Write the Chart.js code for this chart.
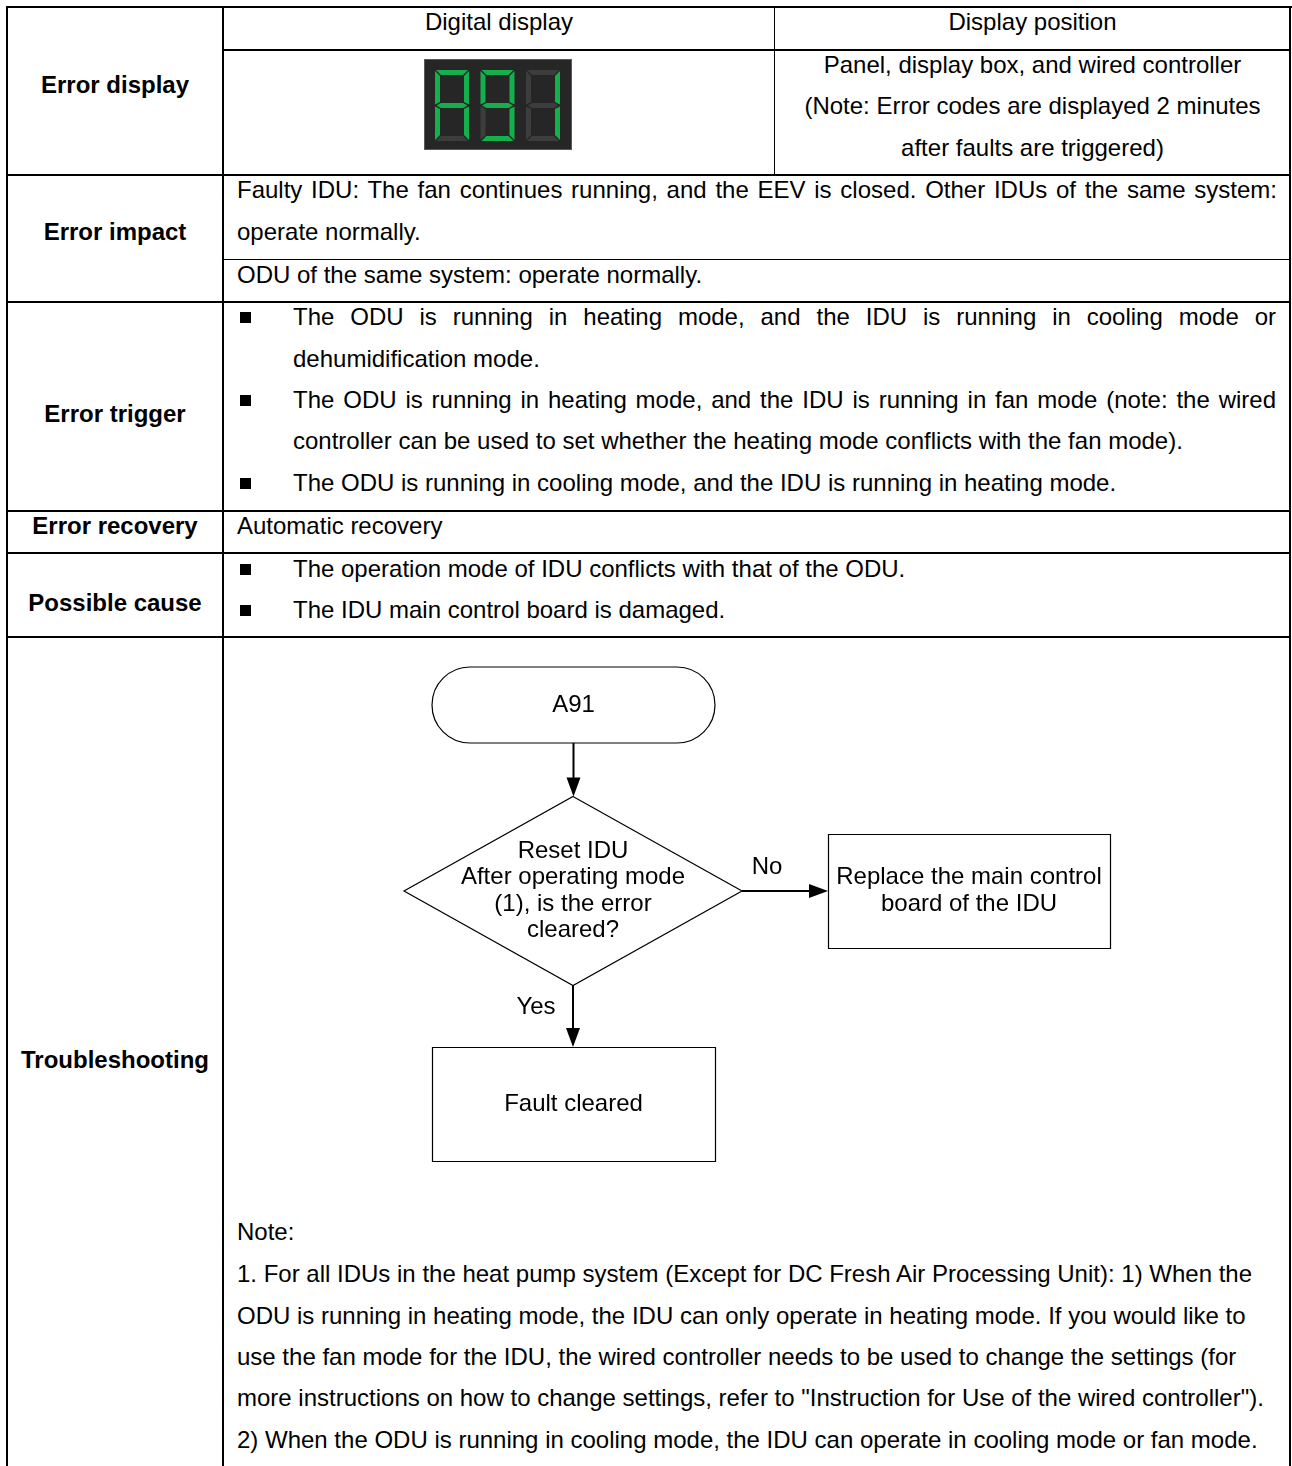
<!DOCTYPE html>
<html>
<head>
<meta charset="utf-8">
<script src="https://cdn.jsdelivr.net/npm/chart.js@4.4.1/dist/chart.umd.min.js"></script>
<style>
html, body { margin: 0; padding: 0; background: #fff; }
body { width: 1292px; height: 1466px; position: relative; overflow: hidden;
       font-family: "Liberation Sans", Arial, sans-serif; font-size: 24px; color: #000; }
.hl { position: absolute; height: 2px; background: #000; }
.vl { position: absolute; width: 2px; background: #000; }
.t { position: absolute; line-height: 30px; height: 30px; white-space: nowrap; }
.c { text-align: center; }
.b { font-weight: bold; }
.sq { position: absolute; width: 11px; height: 11px; background: #000; }
#display { position: absolute; left: 424px; top: 59px; width: 148px; height: 91px; }
#flow { position: absolute; left: 224px; top: 639px; }
</style>
</head>
<body>

<!-- table rules -->
<div class="hl" style="left:6px;top:6px;width:1286px"></div>
<div class="vl" style="left:6px;top:6px;height:1460px"></div>
<div class="vl" style="left:1289px;top:6px;height:1460px"></div>
<div class="vl" style="left:222px;top:6px;height:1460px"></div>
<div class="hl" style="left:222px;top:49px;width:1069px"></div>
<div class="vl" style="left:774px;top:6px;height:169px;width:1px"></div>
<div class="hl" style="left:6px;top:174px;width:1285px"></div>
<div class="hl" style="left:222px;top:259px;width:1069px;height:1px"></div>
<div class="hl" style="left:6px;top:301px;width:1285px"></div>
<div class="hl" style="left:6px;top:510px;width:1285px"></div>
<div class="hl" style="left:6px;top:552px;width:1285px"></div>
<div class="hl" style="left:6px;top:636px;width:1285px"></div>

<!-- first column -->
<div class="t c b" style="left:8px;width:214px;top:70px">Error display</div>
<div class="t c b" style="left:8px;width:214px;top:217px">Error impact</div>
<div class="t c b" style="left:8px;width:214px;top:399px">Error trigger</div>
<div class="t c b" style="left:8px;width:214px;top:511px">Error recovery</div>
<div class="t c b" style="left:8px;width:214px;top:588px">Possible cause</div>
<div class="t c b" style="left:8px;width:214px;top:1045px">Troubleshooting</div>

<!-- error display -->
<div class="t c" style="left:224px;width:550px;top:7px">Digital display</div>
<div class="t c" style="left:776px;width:513px;top:7px">Display position</div>
<div id="display"></div>
<div class="t c" style="left:776px;width:513px;top:50px">Panel, display box, and wired controller</div>
<div class="t c" style="left:776px;width:513px;top:91px">(Note: Error codes are displayed 2 minutes</div>
<div class="t c" style="left:776px;width:513px;top:133px">after faults are triggered)</div>

<!-- error impact -->
<div class="t j" data-width="1040" style="left:237px;top:175px">Faulty IDU: The fan continues running, and the EEV is closed. Other IDUs of the same system:</div>
<div class="t" style="left:237px;top:217px">operate normally.</div>
<div class="t" style="left:237px;top:260px">ODU of the same system: operate normally.</div>

<!-- error trigger -->
<div class="sq" style="left:240px;top:312px"></div>
<div class="t j" data-width="983" style="left:293px;top:302px">The ODU is running in heating mode, and the IDU is running in cooling mode or</div>
<div class="t" style="left:293px;top:344px">dehumidification mode.</div>
<div class="sq" style="left:240px;top:395px"></div>
<div class="t j" data-width="983" style="left:293px;top:385px">The ODU is running in heating mode, and the IDU is running in fan mode (note: the wired</div>
<div class="t" style="left:293px;top:426px">controller can be used to set whether the heating mode conflicts with the fan mode).</div>
<div class="sq" style="left:240px;top:478px"></div>
<div class="t" style="left:293px;top:468px">The ODU is running in cooling mode, and the IDU is running in heating mode.</div>

<!-- error recovery -->
<div class="t" style="left:237px;top:511px">Automatic recovery</div>

<!-- possible cause -->
<div class="sq" style="left:240px;top:564px"></div>
<div class="t" style="left:293px;top:554px">The operation mode of IDU conflicts with that of the ODU.</div>
<div class="sq" style="left:240px;top:605px"></div>
<div class="t" style="left:293px;top:595px">The IDU main control board is damaged.</div>

<!-- troubleshooting -->
<canvas id="flow" width="1066" height="570"></canvas>
<div class="t" style="left:237px;top:1217px">Note:</div>
<div class="t" style="left:237px;top:1259px">1. For all IDUs in the heat pump system (Except for DC Fresh Air Processing Unit): 1) When the</div>
<div class="t" style="left:237px;top:1301px">ODU is running in heating mode, the IDU can only operate in heating mode. If you would like to</div>
<div class="t" style="left:237px;top:1342px">use the fan mode for the IDU, the wired controller needs to be used to change the settings (for</div>
<div class="t" style="left:237px;top:1383px">more instructions on how to change settings, refer to "Instruction for Use of the wired controller").</div>
<div class="t" style="left:237px;top:1425px">2) When the ODU is running in cooling mode, the IDU can operate in cooling mode or fan mode.</div>

<script>
// Flowchart nodes (drawing units = page pixels)
const NODE_TEXT = [
    ['A91'],
    ['Reset IDU', 'After operating mode', '(1), is the error', 'cleared?'],
    ['Replace the main control', 'board of the IDU'],
    ['Fault cleared']
];
const NODE_SHAPE = ['terminal', 'decision', 'process', 'process'];
const NODE_X = [573.5, 573, 969, 573.5];
const NODE_Y = [705, 891, 891, 1104];
const NODE_W = [283, 338, 282, 283];
const NODE_H = [76, 189, 114, 114];

const EDGE_FROM = [0, 1, 1];
const EDGE_TO = [1, 2, 3];
const EDGE_LABEL = ['', 'No', 'Yes'];

// Seven segment display
const DISPLAY_CODE = ['A', '9', '1'];
const SEGMENTS = { 'A': 'abcefg', '9': 'abcdfg', '1': 'bc' };

const FONT = '24px "Liberation Sans", Arial, sans-serif';
const ARROW_LEN = 19;
const ARROW_HALF = 7;

justifyLines();
drawDisplay();
drawFlowchart();

function justifyLines() {
    for (let el of document.querySelectorAll('.j')) {
        let width = parseFloat(el.dataset.width);
        let natural = el.getBoundingClientRect().width;
        let spaces = (el.textContent.match(/ /g) || []).length;

        if (spaces)
            el.style.wordSpacing = ((width - natural) / spaces) + 'px';
    }
}

function drawDisplay() {
    let ns = 'http://www.w3.org/2000/svg';
    let svg = document.createElementNS(ns, 'svg');
    svg.setAttribute('width', 148);
    svg.setAttribute('height', 91);

    let bg = document.createElementNS(ns, 'rect');
    bg.setAttribute('x', 0.5); bg.setAttribute('y', 0.5);
    bg.setAttribute('width', 147); bg.setAttribute('height', 90);
    bg.setAttribute('fill', '#262626');
    bg.setAttribute('stroke', '#5a5a5a');
    svg.appendChild(bg);

    DISPLAY_CODE.forEach((ch, idx) => {
        let x0 = 11 + idx * 45.5;
        let w = 34, t = 5, top = 11, bot = 82, mid = 46.5;
        let shapes = {
            a: [[x0 + 1, top], [x0 + w - 1, top], [x0 + w - 1 - t, top + t], [x0 + 1 + t, top + t]],
            d: [[x0 + 1, bot], [x0 + w - 1, bot], [x0 + w - 1 - t, bot - t], [x0 + 1 + t, bot - t]],
            g: [[x0 + 1.5, mid], [x0 + 1 + t, mid - t / 2], [x0 + w - 1 - t, mid - t / 2], [x0 + w - 1.5, mid],
                [x0 + w - 1 - t, mid + t / 2], [x0 + 1 + t, mid + t / 2]],
            f: [[x0, top + 1], [x0 + t, top + 1 + t], [x0 + t, mid - t / 2 - 1], [x0, mid - 1]],
            b: [[x0 + w, top + 1], [x0 + w - t, top + 1 + t], [x0 + w - t, mid - t / 2 - 1], [x0 + w, mid - 1]],
            e: [[x0, mid + 1], [x0 + t, mid + t / 2 + 1], [x0 + t, bot - 1 - t], [x0, bot - 1]],
            c: [[x0 + w, mid + 1], [x0 + w - t, mid + t / 2 + 1], [x0 + w - t, bot - 1 - t], [x0 + w, bot - 1]]
        };
        let lit = SEGMENTS[ch];

        for (let seg of 'abcdefg') {
            let poly = document.createElementNS(ns, 'polygon');
            poly.setAttribute('points', shapes[seg].map(p => p.join(',')).join(' '));
            poly.setAttribute('fill', lit.includes(seg) ? '#14b04c' : '#3d3d3d');
            svg.appendChild(poly);
        }
    });

    document.getElementById('display').appendChild(svg);
}

function edgeEnds(idx) {
    let a = EDGE_FROM[idx];
    let b = EDGE_TO[idx];

    if (Math.abs(NODE_X[a] - NODE_X[b]) < 2) {
        return { x1: NODE_X[a], y1: NODE_Y[a] + NODE_H[a] / 2, x2: NODE_X[a], y2: NODE_Y[b] - NODE_H[b] / 2, dir: 'down' };
    } else {
        return { x1: NODE_X[a] + NODE_W[a] / 2, y1: NODE_Y[a], x2: NODE_X[b] - NODE_W[b] / 2, y2: NODE_Y[a], dir: 'right' };
    }
}

function drawFlowchart() {
    let datasets = EDGE_FROM.map((from, idx) => {
        let e = edgeEnds(idx);
        let end = e.dir == 'down' ? { x: e.x2, y: e.y2 - ARROW_LEN + 1 } : { x: e.x2 - ARROW_LEN + 1, y: e.y2 };

        return {
            type: 'line',
            data: [{ x: e.x1, y: e.y1 }, end],
            borderColor: '#000',
            borderWidth: 2,
            pointRadius: 0,
            fill: false
        };
    });

    let nodesPlugin = {
        id: 'flowNodes',
        afterDatasetsDraw: chart => {
            let ctx = chart.ctx;
            let sx = chart.scales.x;
            let sy = chart.scales.y;
            let px = v => sx.getPixelForValue(v);
            let py = v => sy.getPixelForValue(v);

            ctx.save();
            ctx.strokeStyle = '#000';
            ctx.fillStyle = '#000';
            ctx.lineWidth = 1.2;

            NODE_SHAPE.forEach((shape, i) => {
                let l = px(NODE_X[i] - NODE_W[i] / 2), r = px(NODE_X[i] + NODE_W[i] / 2);
                let t = py(NODE_Y[i] - NODE_H[i] / 2), b = py(NODE_Y[i] + NODE_H[i] / 2);
                let cx = px(NODE_X[i]), cy = py(NODE_Y[i]);

                ctx.beginPath();
                if (shape == 'terminal') {
                    let rad = (b - t) / 2;
                    ctx.moveTo(l + rad, t);
                    ctx.lineTo(r - rad, t);
                    ctx.arc(r - rad, cy, rad, -Math.PI / 2, Math.PI / 2);
                    ctx.lineTo(l + rad, b);
                    ctx.arc(l + rad, cy, rad, Math.PI / 2, Math.PI * 1.5);
                    ctx.closePath();
                } else if (shape == 'decision') {
                    ctx.moveTo(cx, t);
                    ctx.lineTo(r, cy);
                    ctx.lineTo(cx, b);
                    ctx.lineTo(l, cy);
                    ctx.closePath();
                } else {
                    ctx.rect(Math.round(l) + 0.5, Math.round(t) + 0.5, Math.round(r - l), Math.round(b - t));
                }
                ctx.stroke();

                let lines = NODE_TEXT[i];
                let lh = 26.5;
                ctx.font = FONT;
                ctx.textAlign = 'center';
                ctx.textBaseline = 'middle';
                lines.forEach((txt, k) => {
                    ctx.fillText(txt, cx, cy + (k - (lines.length - 1) / 2) * lh);
                });
            });

            // arrow heads and labels
            EDGE_FROM.forEach((from, idx) => {
                let e = edgeEnds(idx);
                let tx = px(e.x2), ty = py(e.y2);

                ctx.beginPath();
                if (e.dir == 'down') {
                    ctx.moveTo(tx, ty);
                    ctx.lineTo(tx - ARROW_HALF, ty - ARROW_LEN);
                    ctx.lineTo(tx + ARROW_HALF, ty - ARROW_LEN);
                } else {
                    ctx.moveTo(tx, ty);
                    ctx.lineTo(tx - ARROW_LEN, ty - ARROW_HALF);
                    ctx.lineTo(tx - ARROW_LEN, ty + ARROW_HALF);
                }
                ctx.closePath();
                ctx.fill();

                if (EDGE_LABEL[idx]) {
                    ctx.font = FONT;
                    ctx.textAlign = 'center';
                    ctx.textBaseline = 'middle';
                    if (e.dir == 'down') {
                        ctx.fillText(EDGE_LABEL[idx], px(e.x1) - 37, py(e.y1) + 22);
                    } else {
                        ctx.fillText(EDGE_LABEL[idx], px(e.x1) + 25, py(e.y1) - 24);
                    }
                }
            });

            ctx.restore();
        }
    };

    new Chart(document.getElementById('flow'), {
        type: 'scatter',
        data: { datasets: datasets },
        plugins: [nodesPlugin],
        options: {
            responsive: false,
            maintainAspectRatio: false,
            animation: false,
            layout: { padding: 0 },
            scales: {
                x: { type: 'linear', min: 224, max: 1290, display: false },
                y: { type: 'linear', min: 639, max: 1209, reverse: true, display: false }
            },
            plugins: {
                legend: { display: false },
                tooltip: { enabled: false },
                title: { display: false }
            }
        }
    });
}
</script>
</body>
</html>
